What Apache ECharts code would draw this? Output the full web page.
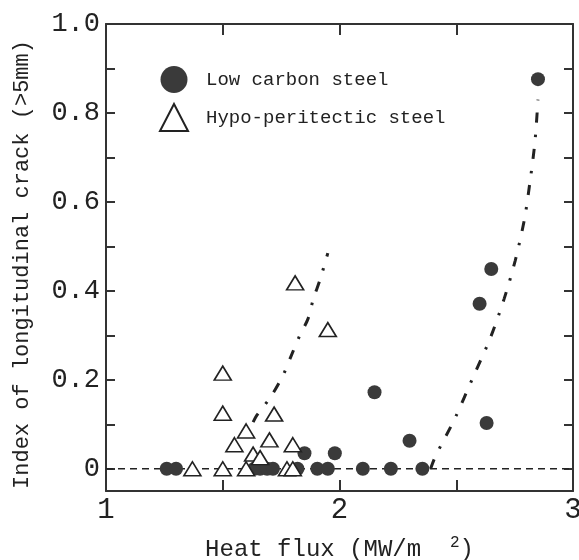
<!DOCTYPE html>
<html>
<head>
<meta charset="utf-8">
<script src="https://cdn.jsdelivr.net/npm/echarts@6/dist/echarts.min.js"></script>
<style>
  html, body { margin: 0; padding: 0; background: #fff; }
  #chart { width: 579px; height: 560px; }
</style>
</head>
<body>
<div id="chart"></div>
<script>
// Heat flux (MW/m2) vs. index of longitudinal crack
const lowCarbonX = [1.26, 1.30, 1.635, 1.66, 1.69, 1.715, 1.82, 1.85, 1.905, 1.95, 1.98, 2.10, 2.15, 2.22, 2.30, 2.355, 2.60, 2.63, 2.65, 2.85];
const lowCarbonY = [0, 0, 0, 0, 0, 0, 0, 0.035, 0, 0, 0.035, 0, 0.172, 0, 0.063, 0, 0.371, 0.103, 0.449, 0.876];

const hypoX = [1.37, 1.50, 1.50, 1.50, 1.55, 1.60, 1.60, 1.63, 1.66, 1.70, 1.72, 1.775, 1.80, 1.80, 1.81, 1.95];
const hypoY = [0, 0, 0.125, 0.215, 0.054, 0.085, 0, 0.033, 0.025, 0.065, 0.123, 0, 0, 0.054, 0.418, 0.313];

// Trend curves (dash-dot)
const lowCarbonTrendX = [2.39, 2.41, 2.495, 2.572, 2.645, 2.705, 2.752, 2.792, 2.816, 2.837, 2.85];
const lowCarbonTrendY = [0, 0.027, 0.114, 0.206, 0.293, 0.382, 0.467, 0.561, 0.646, 0.735, 0.83];
const hypoTrendX = [1.63, 1.647, 1.707, 1.758, 1.79, 1.83, 1.865, 1.888, 1.916, 1.95];
const hypoTrendY = [0.105, 0.121, 0.163, 0.21, 0.25, 0.30, 0.337, 0.382, 0.424, 0.485];

const baselineX = [1, 3];
const baselineY = [0, 0];

const yLabelValues = [0, 0.2, 0.4, 0.6, 0.8, 1.0];
const yTickValues = [0, 0.1, 0.2, 0.3, 0.4, 0.5, 0.6, 0.7, 0.8, 0.9, 1.0];
const xLabelValues = [1, 2, 3];
const xTickValues = [1, 1.5, 2, 2.5, 3];

const zip = (xs, ys) => xs.map((x, i) => [x, ys[i]]);

const FONT = 'Liberation Mono';
const INK = '#222';
const FRAME = '#333';

const chart = echarts.init(document.getElementById('chart'), null, { renderer: 'canvas' });

const frameLine = { show: true, onZero: false, lineStyle: { color: FRAME, width: 2 } };

chart.setOption({
  animation: false,
  backgroundColor: '#fff',
  grid: { left: 106, right: 6, top: 24, bottom: 69, containLabel: false, outerBoundsMode: 'none' },
  legend: {
    orient: 'vertical',
    left: 154,
    top: 61,
    itemWidth: 28,
    itemHeight: 27,
    itemGap: 10,
    data: ['Low carbon steel', 'Hypo-peritectic steel'],
    textStyle: { fontFamily: FONT, fontSize: 19, color: INK, padding: [0, 0, 0, 13] }
  },
  xAxis: [
    {
      type: 'value', position: 'bottom', min: 1, max: 3,
      axisLine: frameLine,
      splitLine: { show: false },
      axisTick: { inside: true, length: 11, customValues: xTickValues, lineStyle: { color: FRAME, width: 2 } },
      axisLabel: {
        customValues: xLabelValues, margin: 5,
        fontFamily: FONT, fontSize: 29, color: INK,
        formatter: v => String(Math.round(v))
      },
      name: 'Heat flux (MW/m  {sup|2})',
      nameLocation: 'middle',
      nameGap: 44,
      nameTextStyle: {
        fontFamily: FONT, fontSize: 24, color: INK,
        rich: { sup: { fontFamily: FONT, fontSize: 16, color: INK, padding: [0, 0, 14, 0] } }
      }
    },
    {
      type: 'value', position: 'top', min: 1, max: 3,
      axisLine: frameLine,
      splitLine: { show: false },
      axisTick: { inside: true, length: 11, customValues: xTickValues, lineStyle: { color: FRAME, width: 2 } },
      axisLabel: { show: false }
    }
  ],
  yAxis: [
    {
      type: 'value', position: 'left', min: -0.05, max: 1.0,
      axisLine: frameLine,
      splitLine: { show: false },
      axisTick: { inside: true, length: 9, customValues: yTickValues, lineStyle: { color: FRAME, width: 2 } },
      axisLabel: {
        customValues: yLabelValues, margin: 6,
        fontFamily: FONT, fontSize: 27, color: INK,
        formatter: v => (Math.abs(v) < 1e-9 ? '0' : v.toFixed(1))
      },
      name: 'Index of longitudinal crack (>5mm)',
      nameLocation: 'middle',
      nameRotate: 90,
      nameGap: 73,
      nameTextStyle: { fontFamily: FONT, fontSize: 22, color: INK, padding: [0, 14, 0, 0] }
    },
    {
      type: 'value', position: 'right', min: -0.05, max: 1.0,
      axisLine: frameLine,
      splitLine: { show: false },
      axisTick: { inside: true, length: 9, customValues: yTickValues, lineStyle: { color: FRAME, width: 2 } },
      axisLabel: { show: false }
    }
  ],
  series: [
    {
      name: 'zero',
      type: 'line',
      data: zip(baselineX, baselineY),
      symbol: 'none',
      silent: true,
      z: 1,
      lineStyle: { color: INK, width: 1.5, type: [7, 5] }
    },
    {
      name: 'lowTrend',
      type: 'line',
      data: zip(lowCarbonTrendX, lowCarbonTrendY),
      symbol: 'none',
      smooth: 0.3,
      silent: true,
      z: 1,
      lineStyle: { color: INK, width: 3, type: [10, 12, 2.5, 12] }
    },
    {
      name: 'hypoTrend',
      type: 'line',
      data: zip(hypoTrendX, hypoTrendY),
      symbol: 'none',
      smooth: 0.3,
      silent: true,
      z: 1,
      lineStyle: { color: INK, width: 3, type: [10, 12, 2.5, 12] }
    },
    {
      name: 'Low carbon steel',
      type: 'scatter',
      data: zip(lowCarbonX, lowCarbonY),
      symbol: 'circle',
      symbolSize: 14,
      z: 3,
      itemStyle: { color: '#3a3a3a', opacity: 1 }
    },
    {
      name: 'Hypo-peritectic steel',
      type: 'scatter',
      data: zip(hypoX, hypoY),
      symbol: 'triangle',
      symbolSize: [17, 14],
      z: 4,
      itemStyle: { color: '#fff', borderColor: INK, borderWidth: 1.6, opacity: 1 }
    }
  ]
});
</script>
</body>
</html>
